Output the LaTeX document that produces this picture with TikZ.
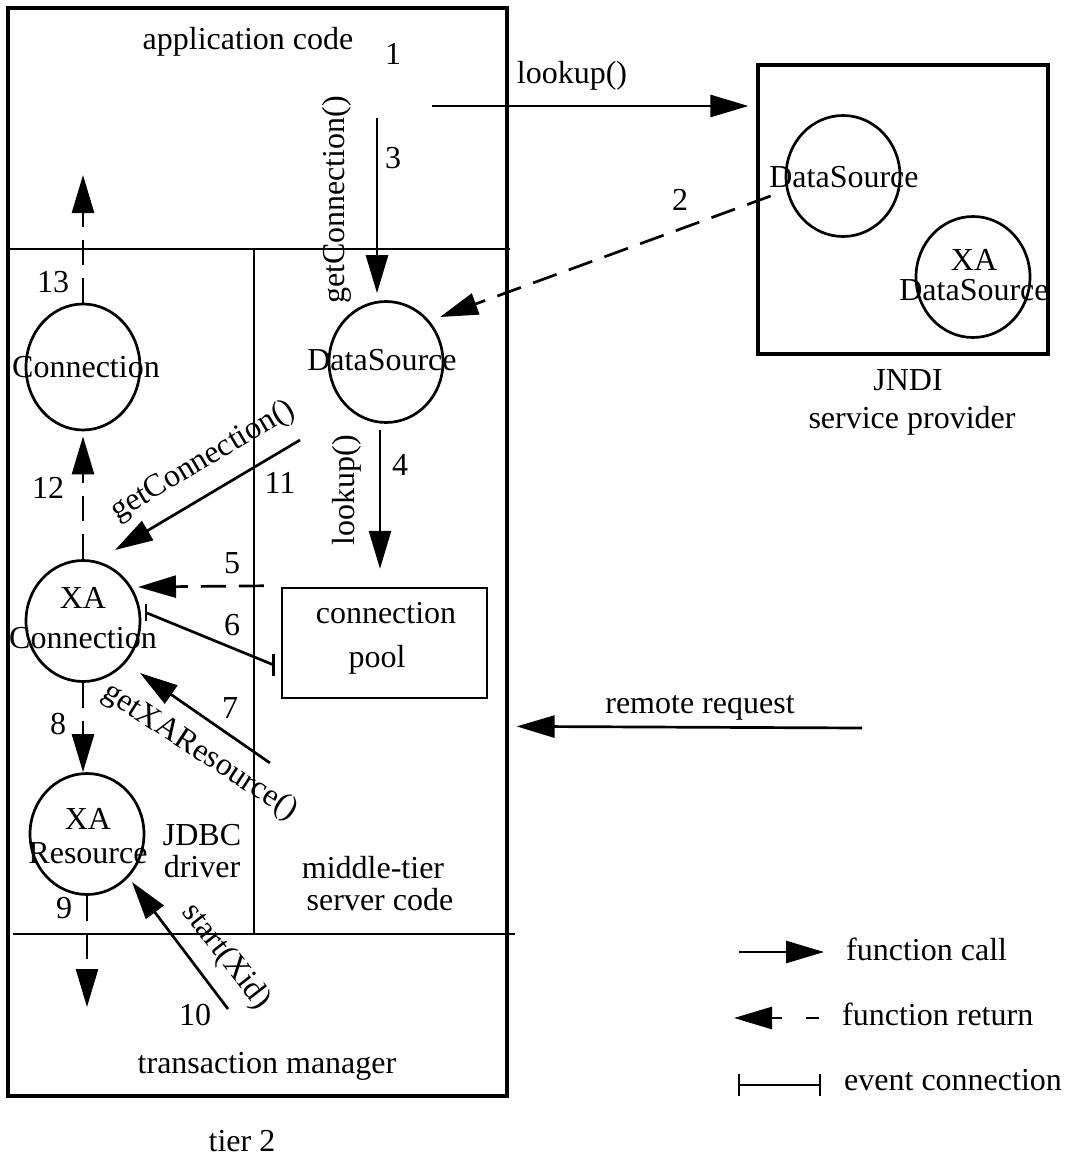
\documentclass[tikz,border=0pt]{standalone}
\usepackage{fontspec}
\setmainfont{Liberation Serif}
\usetikzlibrary{arrows.meta,shapes.geometric,calc}
\begin{document}
\begin{tikzpicture}[x=1pt,y=-1pt,
  every node/.style={font=\fontsize{32}{36}\selectfont, inner sep=0pt},
  ln/.style={line width=2.7pt},
  obj/.style={ln, draw, ellipse, minimum width=114pt, minimum height=121pt},
  call/.style={ln, -{Triangle[length=38pt,width=22pt]}},
  ret/.style={call, dash pattern=on 25pt off 13pt},
  evt/.style={ln},
  txt/.style={anchor=base},
  ltxt/.style={anchor=base west},
  rtxt/.style={anchor=center}]
\useasboundingbox (0,0) rectangle (1065,1156);
\fill[white] (0,0) rectangle (1065,1156);
% frames
\node[draw, line width=3.2pt, minimum width=499pt, minimum height=1088pt] (tier) at (257.5,552) {};
\node[draw, line width=3.2pt, minimum width=290pt, minimum height=289pt] (jndi) at (903,209.5) {};
\node[draw, line width=2.4pt, minimum width=205pt, minimum height=110pt] (pool) at (384.5,643) {};
\draw[ln] (8,249) -- (510,249);
\draw[ln] (13,934) -- (515,934);
\draw[ln] (254,249) -- (254,934);
% objects
\node[obj, minimum height=126pt] (conn) at (83,367) {};
\node[obj] (ds) at (386,362) {};
\node[obj] (xac) at (83,621) {};
\node[obj] (xar) at (87,834) {};
\node[obj] (jds) at (843,176) {};
\node[obj] (xads) at (973,277) {};
% object texts
\node[txt] (connT) at (86,377) {Connection};
\node[txt] (dsT) at (382,370) {DataSource};
\node[txt] (xacT1) at (83,608) {XA};
\node[txt] (xacT2) at (83,648) {Connection};
\node[txt] (xarT1) at (88,829) {XA};
\node[txt] (xarT2) at (88,863) {Resource};
\node[txt] (jdsT) at (844,187) {DataSource};
\node[txt] (xadsT1) at (974,270) {XA};
\node[txt] (xadsT2) at (974,300) {DataSource};
\node[txt] (poolT1) at (386,623) {connection};
\node[txt] (poolT2) at (377,667) {pool};
% region texts
\node[txt] (appT) at (248,50) {application code};
\node[txt] (jdbc1) at (202,845) {JDBC};
\node[txt] (jdbc2) at (202,877) {driver};
\node[txt] (mid1) at (373,878) {middle-tier};
\node[txt] (mid2) at (380,910) {server code};
\node[txt] (tmT) at (267,1073) {transaction manager};
\node[txt] (tierT) at (242,1151) {tier 2};
\node[txt] (jndi1) at (908,390) {JNDI};
\node[txt] (jndi2) at (912,428) {service provider};
% step numbers
\node[txt] (n1) at (393,65) {1};
\node[txt] (n2) at (680,210) {2};
\node[txt] (n3) at (393,168) {3};
\node[txt] (n4) at (400,475) {4};
\node[txt] (n5) at (232,573) {5};
\node[txt] (n6) at (232,635) {6};
\node[txt] (n7) at (230,718) {7};
\node[txt] (n8) at (58,734) {8};
\node[txt] (n9) at (64,918) {9};
\node[txt] (n10) at (195,1025) {10};
\node[txt] (n11) at (280,493) {11};
\node[txt] (n12) at (48,498) {12};
\node[txt] (n13) at (53,292) {13};
% connector labels
\node[txt] (lk1) at (572,83) {lookup()};
\node[rtxt, rotate=90] (gc3) at (337,200) {getConnection()};
\node[rtxt, rotate=90] (lk4) at (347,490) {lookup()};
\node[rtxt, rotate=30.5] (gc11) at (203,461) {getConnection()};
\node[rtxt, rotate=-33] (gxa) at (200,752) {getXAResource()};
\node[rtxt, rotate=-52] (st) at (226,957) {start(Xid)};
\node[txt] (rrT) at (700,713) {remote request};
% coordinates of free ends
\coordinate (c1) at (432,106);
\coordinate (c3) at (377,118);
\coordinate (c7) at (270,763);
\coordinate (c10) at (228,1009);
\coordinate (c11) at (300,440);
\coordinate (crr) at (862,728);
\coordinate (appret) at (83,175);
\coordinate (tmret) at (87,1007);
% connectors
\draw[call] (c1) -- ($(c1 -| jndi.west)+(-8,0)$);
\draw[ret] ($(jds.west)+(-14,20)$) -- ($(ds.center)+(54,-45)$);
\draw[call] (c3) -- ($(c3 |- ds.north)+(0,-7)$);
\draw[call] ($(ds.center)+(-6,68)$) -- ($(pool.north)+(-4.5,-18)$);
\draw[ret] ($(pool.north west)+(-17,-1)$) -- ($(xac.center)+(55,-34)$);
\coordinate (e6a) at ($(xac.center)+(64,-8)$);
\coordinate (e6b) at ($(pool.west)+(-7,22)$);
\draw[evt] (e6a) -- (e6b);
\draw[evt] ($(e6a)+(-1,-9)$) -- ($(e6a)+(-1,8)$);
\draw[evt] ($(e6b)+(0,-11)$) -- ($(e6b)+(0,11)$);
\draw[call] (c7) -- ($(xac.center)+(57,52)$);
\draw[ret] (xac.south) -- (xac.south |- xar.north);
\draw[ret] (xar.south) -- (tmret);
\draw[call] (c10) -- ($(xar.center)+(45,48)$);
\draw[call] (c11) -- ($(xac.center)+(32,-71)$);
\draw[ret] (xac.north) -- ($(conn.south)+(0,5)$);
\draw[ret] (conn.north) -- (appret);
\draw[call] (crr) -- ($(tier.north east)+(8,720)$);
% legend
\coordinate (lg1a) at (739,952);
\coordinate (lg1b) at (824,952);
\coordinate (lg2a) at (819,1018);
\coordinate (lg2b) at (734,1018);
\coordinate (lg3a) at (739,1085);
\coordinate (lg3b) at (820,1085);
\draw[call] (lg1a) -- (lg1b);
\draw[call, dash pattern=on 13pt off 24pt on 80pt off 0pt] (lg2a) -- (lg2b);
\draw[evt] (lg3a) -- (lg3b);
\draw[evt] ($(lg3a)+(0,-11)$) -- ($(lg3a)+(0,11)$);
\draw[evt] ($(lg3b)+(0,-11)$) -- ($(lg3b)+(0,11)$);
\node[ltxt] (lgT1) at (846,960) {function call};
\node[ltxt] (lgT2) at (842,1025) {function return};
\node[ltxt] (lgT3) at (844,1090) {event connection};
\end{tikzpicture}
\end{document}
